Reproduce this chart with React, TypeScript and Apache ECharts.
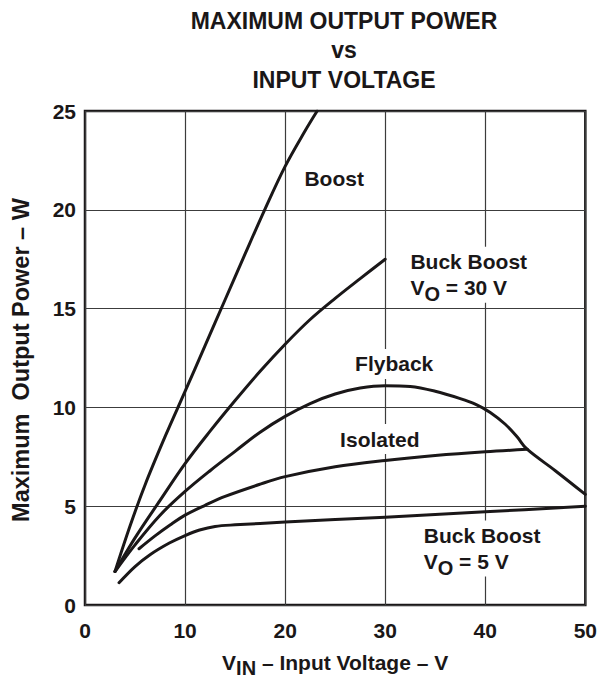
import React, { useEffect, useRef } from 'react';
import * as echarts from 'echarts';

// x: input voltage (V), y: maximum output power (W)
const boost: [number, number][] = [
  [3.0, 1.7], [4.5, 4.0], [6.0, 6.08], [8.0, 8.52], [10.0, 10.81], [12.0, 13.13],
  [14.0, 15.45], [16.0, 17.77], [18.0, 20.05], [20.0, 22.2], [22.0, 24.0], [23.2, 25.0],
];
const buckBoost30: [number, number][] = [
  [3.0, 1.7], [5.0, 3.4], [7.5, 5.3], [10.0, 7.16], [12.5, 8.8], [15.0, 10.35],
  [17.5, 11.83], [20.0, 13.2], [22.5, 14.45], [25.0, 15.52], [27.5, 16.52], [30.0, 17.5],
];
const flyback: [number, number][] = [
  [3.0, 1.7], [5.0, 3.05], [7.5, 4.55], [10.0, 5.75], [12.5, 6.8], [15.0, 7.78],
  [17.5, 8.75], [20.0, 9.55], [22.5, 10.2], [25.0, 10.68], [27.5, 10.98], [30.0, 11.1],
  [32.5, 11.06], [35.0, 10.82], [37.5, 10.45], [39.0, 10.17], [40.5, 9.75],
  [42.0, 9.15], [43.2, 8.5], [44.15, 7.9], [47.0, 6.8], [50.0, 5.6],
];
const isolated: [number, number][] = [
  [5.4, 2.85], [7.0, 3.5], [8.5, 4.05], [10.0, 4.55], [12.0, 5.05], [14.0, 5.5],
  [17.4, 6.1], [20.0, 6.5], [25.0, 7.0], [30.0, 7.32], [35.0, 7.57], [40.0, 7.76],
  [44.2, 7.88],
];
const buckBoost5: [number, number][] = [
  [3.4, 1.13], [5.0, 1.95], [6.5, 2.55], [8.43, 3.14], [10.0, 3.52], [11.45, 3.8],
  [13.0, 3.98], [15.0, 4.06], [20.0, 4.2], [30.0, 4.45], [40.0, 4.72], [50.0, 5.0],
];

const xTicks = [0, 10, 20, 30, 40, 50];
const yTicks = [0, 5, 10, 15, 20, 25];

const titleLines = ['MAXIMUM OUTPUT POWER', 'vs', 'INPUT VOLTAGE'];
const xName = ['V', 'IN', ' – Input Voltage – V'];
const yName = 'Maximum  Output Power – W';

// annotation anchors (data coordinates) and their texts
const labelAnchors: [number, number][] = [
  [24.9, 21.56], [32.07, 16.72], [30.9, 12.2], [29.46, 8.4], [33.4, 2.86],
];
const labelTexts = [
  '{n|Boost}',
  '{n|Buck Boost}\n{n|V}{s|O}{n| = 30 V}',
  '{n|Flyback}',
  '{n|Isolated}',
  '{n|Buck Boost}\n{n|V}{s|O}{n| = 5 V}',
];
const labelLeftAligned = [false, true, false, false, true];

const FONT = "'Liberation Sans', Arial, Helvetica, sans-serif";
const INK = '#1a1718';

export default function App() {
  const ref = useRef<HTMLDivElement>(null);
  useEffect(() => {
    if (!ref.current) return;
    const chart = echarts.init(ref.current, null, { renderer: 'svg' });
    const lineSeries = (data: [number, number][]) => ({
      type: 'line',
      data,
      showSymbol: false,
      symbol: 'none',
      smooth: 0.35,
      lineStyle: { color: INK, width: 3, cap: 'round', join: 'round' },
      silent: true,
      z: 3,
    });
    const rich = {
      n: { fontFamily: FONT, fontWeight: 'bold', fontSize: 21, color: INK, lineHeight: 26 },
      s: { fontFamily: FONT, fontWeight: 'bold', fontSize: 20, color: INK, lineHeight: 26, padding: [12, 0, 0, 0] },
    };
    chart.setOption({
      animation: false,
      backgroundColor: '#fff',
      title: {
        text: titleLines.join('\n'),
        left: 339,
        top: 1,
        textAlign: 'center',
        textStyle: { fontFamily: FONT, fontWeight: 'bold', fontSize: 23, lineHeight: 29.5, color: INK },
      },
      graphic: [
        {
          type: 'text',
          x: 21,
          y: 360,
          rotation: Math.PI / 2,
          style: {
            text: yName,
            fontFamily: FONT,
            fontWeight: 'bold',
            fontSize: 23.5,
            fill: INK,
            align: 'center',
            verticalAlign: 'middle',
          },
        },
      ],
      grid: {
        left: 85, right: 13, top: 111, bottom: 70,
        show: true, borderColor: INK, borderWidth: 2.5, backgroundColor: 'transparent',
      },
      xAxis: {
        type: 'value',
        min: xTicks[0], max: xTicks[xTicks.length - 1], interval: 10,
        axisLine: { show: false },
        axisTick: { show: false },
        splitLine: { show: true, lineStyle: { color: '#3c3c3c', width: 1.2 } },
        axisLabel: { fontFamily: FONT, fontWeight: 'bold', fontSize: 21, color: INK, margin: 15 },
        name: `{n|${xName[0]}}{s|${xName[1]}}{n|${xName[2]}}`,
        nameLocation: 'middle',
        nameGap: 40,
        nameTextStyle: { rich },
      },
      yAxis: {
        type: 'value',
        min: yTicks[0], max: yTicks[yTicks.length - 1], interval: 5,
        axisLine: { show: false },
        axisTick: { show: false },
        splitLine: { show: true, lineStyle: { color: '#3c3c3c', width: 1.2 } },
        axisLabel: { fontFamily: FONT, fontWeight: 'bold', fontSize: 21, color: INK, margin: 9 },
      },
      series: [
        lineSeries(boost),
        lineSeries(buckBoost30),
        lineSeries(flyback),
        lineSeries(isolated),
        lineSeries(buckBoost5),
        {
          type: 'scatter',
          silent: true,
          symbolSize: 1,
          itemStyle: { color: 'rgba(0,0,0,0)', opacity: 1 },
          z: 4,
          data: labelAnchors.map((p, i) => ({
            value: p,
            label: {
              show: true,
              position: labelLeftAligned[i] ? 'right' : 'inside',
              distance: 0,
              align: labelLeftAligned[i] ? 'left' : 'center',
              verticalAlign: 'middle',
              formatter: labelTexts[i],
              color: INK,
              opacity: 1,
              backgroundColor: '#fff',
              padding: [2, 4],
              rich,
            },
          })),
        },
      ],
    });
    return () => chart.dispose();
  }, []);
  return (
    <div
      ref={ref}
      style={{ position: 'fixed', left: 0, top: 0, width: 600, height: 683 }}
    />
  );
}
